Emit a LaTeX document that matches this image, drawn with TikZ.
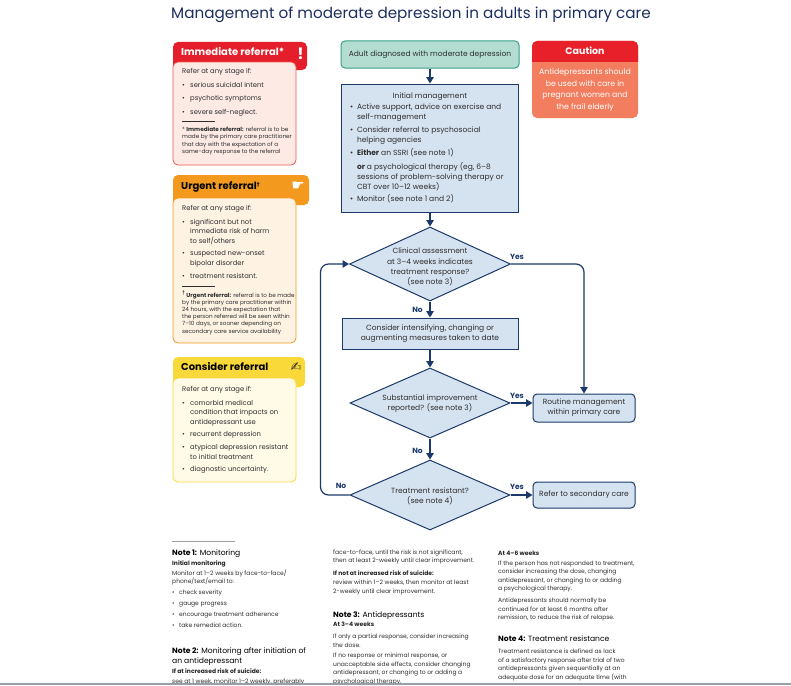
\documentclass[tikz,border=0pt]{standalone}
\usepackage{fontspec}
\setmainfont{Poppins}
\newfontfamily\symfont{DejaVu Sans}
\usepackage{tikz}
\usetikzlibrary{arrows.meta,shapes.geometric}
\usepackage{xcolor}

\definecolor{navy}{HTML}{1B3A6B}
\definecolor{titleblue}{HTML}{1D2F5F}
\definecolor{flowfill}{HTML}{D5E2F0}
\definecolor{startfill}{HTML}{B3DDD0}
\definecolor{startline}{HTML}{3A9E88}
\definecolor{immred}{HTML}{E41E2B}
\definecolor{immfill}{HTML}{FDEAE4}
\definecolor{immline}{HTML}{EE5A4E}
\definecolor{urgorange}{HTML}{F39A1E}
\definecolor{urgfill}{HTML}{FEF2E3}
\definecolor{conyellow}{HTML}{F9D83A}
\definecolor{confill}{HTML}{FFFBE6}
\definecolor{cautionred}{HTML}{E8202A}
\definecolor{cautionbody}{HTML}{F27E5F}
\definecolor{bodytext}{HTML}{2E2E2E}
\definecolor{notegray}{HTML}{9A9EA6}

\newcommand{\bul}{\makebox[8pt][l]{\textbullet}}
\newcommand{\bind}{\hspace*{8pt}}
\newcommand{\fbul}{\makebox[7pt][l]{\textbullet}}
\newcommand{\find}{\hspace*{7pt}}
\newcommand{\dagmark}{{\symfont\fontsize{5.5}{5.5}\selectfont\raisebox{3pt}{†}}}
\newcommand{\flowfont}{\fontsize{7.5}{10.2}\selectfont}

\tikzset{
  flowline/.style={draw=navy, line width=1.2pt},
  flowarrow/.style={flowline, -{Triangle[length=6.5pt,width=7.5pt]}},
  flowbox/.style={draw=navy, fill=flowfill, line width=1pt, inner sep=0pt, align=center, font=\flowfont, text=bodytext},
  startbox/.style={flowbox, draw=startline, fill=startfill, rounded corners=4pt},
  decision/.style={diamond, draw=navy, fill=flowfill, line width=1pt, inner sep=0pt},
  dtext/.style={align=center, font=\flowfont, text=bodytext},
  answer/.style={font=\bfseries\fontsize{7.5}{9}\selectfont, text=navy},
  headtext/.style={anchor=base west, inner sep=0pt, font=\bfseries\fontsize{10}{12}\selectfont},
  boxtext/.style={anchor=base west, inner sep=0pt, font=\fontsize{6.8}{9.8}\selectfont, text=bodytext},
  foottext/.style={anchor=base west, inner sep=0pt, font=\fontsize{5.7}{7.5}\selectfont, text=bodytext},
  notehead/.style={anchor=base west, inner sep=0pt, font=\fontsize{7.6}{10}\selectfont, text=black},
  notesub/.style={anchor=base west, inner sep=0pt, font=\bfseries\fontsize{6}{8.6}\selectfont, text=black!85},
  notetext/.style={anchor=base west, inner sep=0pt, font=\fontsize{6}{8.6}\selectfont, text=bodytext},
}

\begin{document}
\begin{tikzpicture}[x=1pt, y=-1pt]
  \fill[white] (0,0) rectangle (791,685);
  \useasboundingbox (0,0) rectangle (791,685);

  \node[anchor=base, font=\fontsize{15.2}{18}\selectfont, text=titleblue] (title) at (411,18.5)
    {Management of moderate depression in adults in primary care};

  % immediate referral
  \fill[immred, rounded corners=5] (173,42) rectangle (307,70);
  \draw[immline, fill=immfill, line width=0.8pt, rounded corners=5] (173,62) rectangle (296,165);
  \node[headtext, text=white] (immhead) at (181,55.7) {Immediate referral*};
  \node[text=white, font=\bfseries\fontsize{16}{16}\selectfont] (immicon) at (300.5,54) {!};
  \node[boxtext] (immlist) at (182,74) {\parbox[t]{112pt}{Refer at any stage if:\\[3.7pt]
    \bul serious suicidal intent\\[3.7pt]
    \bul psychotic symptoms\\[3.7pt]
    \bul severe self-neglect.}};
  \draw[bodytext, line width=0.5pt] (182,121) -- (215,121);
  \node[foottext] (immfoot) at (182,131) {\parbox[t]{140pt}{\raggedright * \textbf{Immediate referral:} referral is to be\\
    made by the primary care practitioner\\
    that day with the expectation of a\\
    same-day response to the referral}};

  % urgent referral
  \fill[urgorange, rounded corners=5] (173,175) rectangle (309,205);
  \draw[urgorange, fill=urgfill, line width=0.8pt, rounded corners=5] (173,198) rectangle (296,343);
  \node[headtext, text=black] (urghead) at (181,189.5) {Urgent referral\dagmark};
  \node[text=white, font=\symfont\fontsize{15}{15}\selectfont] (urgicon) at (298,186) {☛};
  \node[boxtext] (urglist) at (182,210) {\parbox[t]{112pt}{Refer at any stage if:\\[4.2pt]
    \bul significant but not\\
    \bind immediate risk of harm\\
    \bind to self/others\\[2.5pt]
    \bul suspected new-onset\\
    \bind bipolar disorder\\[2.5pt]
    \bul treatment resistant.}};
  \draw[bodytext, line width=0.5pt] (182,286) -- (215,286);
  \node[foottext, font=\fontsize{5.7}{7.2}\selectfont] (urgfoot) at (182,297) {\parbox[t]{140pt}{\raggedright \dagmark\ \textbf{Urgent referral:} referral is to be made\\
    by the primary care practitioner within\\
    24 hours, with the expectation that\\
    the person referred will be seen within\\
    7–10 days, or sooner depending on\\
    secondary care service availability}};

  % consider referral
  \fill[conyellow, rounded corners=5] (173,357) rectangle (305,387);
  \draw[conyellow, fill=confill, line width=0.8pt, rounded corners=5] (173,378) rectangle (296,482);
  \node[headtext, text=black] (conhead) at (181,370) {Consider referral};
  \node[text=bodytext, font=\symfont\fontsize{13}{13}\selectfont] (conicon) at (296,367) {✍};
  \node[boxtext] (conlist) at (182,391) {\parbox[t]{112pt}{Refer at any stage if:\\[4.2pt]
    \bul comorbid medical\\
    \bind condition that impacts on\\
    \bind antidepressant use\\[2.5pt]
    \bul recurrent depression\\[2.5pt]
    \bul atypical depression resistant\\
    \bind to initial treatment\\[2.5pt]
    \bul diagnostic uncertainty.}};

  % caution
  \fill[cautionbody, rounded corners=5] (532,41) rectangle (638,118);
  \begin{scope}
    \clip (532,41) rectangle (638,61);
    \fill[cautionred, rounded corners=5] (532,41) rectangle (638,80);
  \end{scope}
  \node[anchor=base, text=white, font=\bfseries\fontsize{9.5}{11}\selectfont] (cauthead) at (585,54.5) {Caution};
  \node[anchor=base, inner sep=0pt, text=white, font=\fontsize{7.8}{11.7}\selectfont] (cauttxt) at (585,74.5)
    {\parbox[t]{104pt}{\centering Antidepressants should\\be used with care in\\pregnant women and\\the frail elderly}};

  % flow chart
  \node[startbox, minimum width=178, minimum height=27] (adult) at (430,54.5) {Adult diagnosed with moderate depression};
  \node[flowbox, minimum width=177, minimum height=128] (init) at (430,148) {\parbox{160pt}{%
    \makebox[160pt]{Initial management}\\[0.5pt]
    \fbul Active support, advice on exercise and\\
    \find self-management\\[2.7pt]
    \fbul Consider referral to psychosocial\\
    \find helping agencies\\[2.7pt]
    \fbul \textbf{Either} an SSRI (see note 1)\\[3.7pt]
    \find\textbf{or} a psychological therapy (eg, 6–8\\
    \find sessions of problem-solving therapy or\\
    \find CBT over 10–12 weeks)\\[2pt]
    \fbul Monitor (see note 1 and 2)}};
  \node[decision, minimum width=161, minimum height=74] (clin) at (430,264) {};
  \node[dtext] (clintxt) at (430,267) {Clinical assessment\\at 3–4 weeks indicates\\treatment response?\\(see note 3)};
  \node[flowbox, minimum width=176, minimum height=31] (intens) at (430,333.5) {Consider intensifying, changing or\\augmenting measures taken to date};
  \node[decision, minimum width=160, minimum height=70] (improve) at (430,403) {};
  \node[dtext] (improvetxt) at (430,403.5) {Substantial improvement\\reported? (see note 3)};
  \node[decision, minimum width=160, minimum height=70] (resist) at (430,495) {};
  \node[dtext] (resisttxt) at (430,496) {Treatment resistant?\\(see note 4)};
  \node[flowbox, rounded corners=4pt, minimum width=102, minimum height=28] (routine) at (584,408) {Routine management\\within primary care};
  \node[flowbox, rounded corners=4pt, minimum width=102, minimum height=26] (secondary) at (584,495) {Refer to secondary care};

  \draw[flowarrow] (adult) -- (init);
  \draw[flowarrow] (init) -- (clin);
  \draw[flowarrow] (clin) -- (intens);
  \draw[flowarrow] (intens) -- (improve);
  \draw[flowarrow] (improve.east) -- (improve.east -| routine.west);
  \draw[flowarrow] (improve) -- (resist);
  \draw[flowarrow] (resist) -- (secondary);
  \draw[flowarrow, rounded corners=8pt] (clin.east) -| (routine.north);
  \draw[flowarrow, rounded corners=8pt] (resist.west) -- ++(-29,0) |- (clin.west);

  \node[answer] (yes1) at (517,256.7) {Yes};
  \node[answer] (no1) at (417.5,310) {No};
  \node[answer] (yes2) at (517,395.7) {Yes};
  \node[answer] (no2) at (417.5,451) {No};
  \node[answer] (yes3) at (517,486.7) {Yes};
  \node[answer] (no3) at (341,486) {No};

  % notes
  \draw[notegray, line width=1pt] (172,541) -- (235,541);
  \node[notehead] (note1) at (172,555.5) {\textbf{Note 1:} Monitoring};
  \node[notesub] (note1a) at (172,565.5) {Initial monitoring};
  \node[notetext] (note1b) at (172,575) {\parbox[t]{160pt}{Monitor at 1–2 weeks by face-to-face/\\
    phone/text/email to:\\[2.4pt]
    \fbul check severity\\[2.4pt]
    \fbul gauge progress\\[2.4pt]
    \fbul encourage treatment adherence\\[2.4pt]
    \fbul take remedial action.}};
  \node[notehead] (note2) at (172,653) {\parbox[t]{160pt}{\textbf{Note 2:} Monitoring after initiation of\\an antidepressant}};
  \node[notesub] (note2a) at (172,673.5) {If at increased risk of suicide:};
  \node[notetext] (note2b) at (172,683) {see at 1 week, monitor 1–2 weekly, preferably};

  \node[notetext] (note2c) at (333,554) {\parbox[t]{160pt}{face-to-face, until the risk is not significant,\\
    then at least 2-weekly until clear improvement.}};
  \node[notesub] (note2d) at (333,575.5) {If not at increased risk of suicide:};
  \node[notetext] (note2e) at (333,584.5) {\parbox[t]{160pt}{review within 1–2 weeks, then monitor at least\\
    2-weekly until clear improvement.}};
  \node[notehead] (note3) at (333,617.5) {\textbf{Note 3:} Antidepressants};
  \node[notesub] (note3a) at (333,626.5) {At 3–4 weeks};
  \node[notetext] (note3b) at (333,638.5) {\parbox[t]{160pt}{If only a partial response, consider increasing\\
    the dose.\\[2pt]
    If no response or minimal response, or\\
    unacceptable side effects, consider changing\\
    antidepressant, or changing to or adding a\\
    psychological therapy.}};

  \node[notesub] (note3c) at (498,555) {At 4–6 weeks};
  \node[notetext] (note3d) at (498,565) {\parbox[t]{160pt}{If the person has not responded to treatment,\\
    consider increasing the dose, changing\\
    antidepressant, or changing to or adding\\
    a psychological therapy.\\[3pt]
    Antidepressants should normally be\\
    continued for at least 6 months after\\
    remission, to reduce the risk of relapse.}};
  \node[notehead] (note4) at (498,641) {\textbf{Note 4:} Treatment resistance};
  \node[notetext] (note4a) at (498,653.5) {\parbox[t]{160pt}{Treatment resistance is defined as lack\\
    of a satisfactory response after trial of two\\
    antidepressants given sequentially at an\\
    adequate dose for an adequate time (with}};

  \draw[notegray, line width=1.5pt] (0,684) -- (791,684);
\end{tikzpicture}
\end{document}
